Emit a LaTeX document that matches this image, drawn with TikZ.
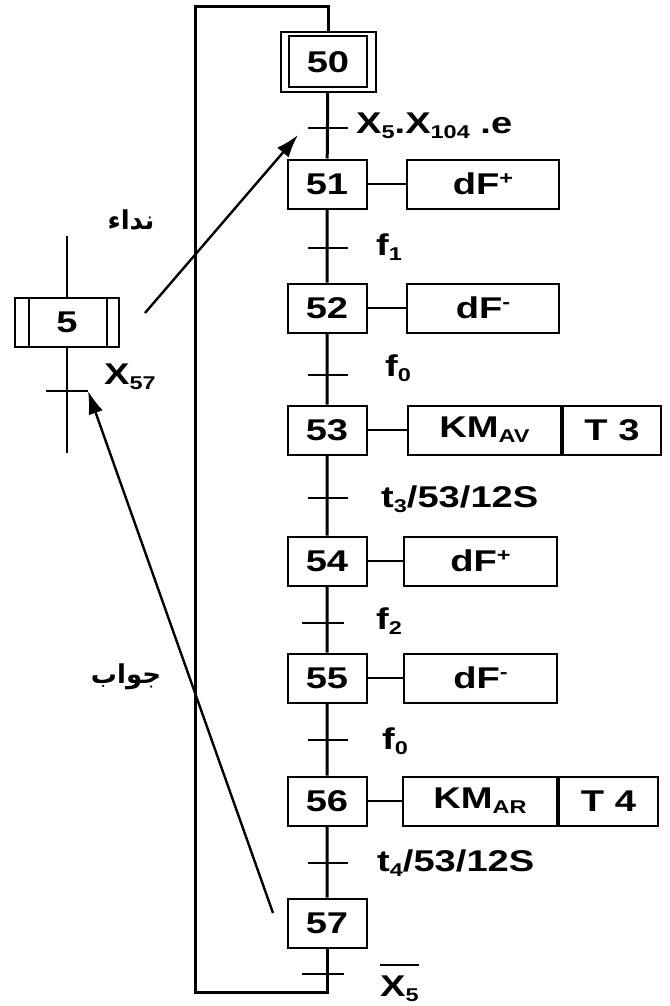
\documentclass[tikz,border=0pt]{standalone}
\usepackage{fontspec}
\setmainfont[FakeStretch=1.27]{Liberation Sans}
\newfontfamily\arabicfont[Script=Arabic]{DejaVu Sans}
\TeXXeTstate=1
\usepackage{tikz}
\usetikzlibrary{arrows.meta,positioning}

\newcommand{\lo}[1]{\raisebox{-5pt}{\fontsize{18.5}{18}\selectfont #1}}
\newcommand{\hi}[1]{\raisebox{10pt}{\fontsize{18.5}{18}\selectfont #1}}

\begin{document}
\begin{tikzpicture}[x=1pt, y=-1pt,
    every node/.style={font=\fontsize{30}{33}\selectfont\bfseries},
    stepbox/.style={draw, line width=2pt, minimum width=79pt, minimum height=49pt, inner sep=0pt},
    actbox/.style={draw, line width=2pt, minimum height=49pt, inner sep=0pt, anchor=west},
    flow/.style={line width=3pt},
    tick/.style={line width=2pt},
    lbl/.style={inner sep=0pt, anchor=base west},
    arab/.style={inner sep=0pt, font=\arabicfont\fontsize{26}{30}\selectfont\bfseries},
    link/.style={line width=2.4pt, -{Latex[length=23pt, width=15pt]}}]
    \useasboundingbox (0,0) rectangle (669,1006);

    % Initial step with double frame
    \node[stepbox, minimum width=78pt, minimum height=51pt] (s50) at (328,62) {50};
    \node[stepbox, minimum width=95pt, minimum height=60pt] (s50o) at (328,62) {};

    % Steps of the sequence
    \node[stepbox] (s51) at (327,184) {51};
    \node[stepbox] (s52) at (327,308) {52};
    \node[stepbox] (s53) at (327,430) {53};
    \node[stepbox] (s54) at (327,561) {54};
    \node[stepbox] (s55) at (327,678) {55};
    \node[stepbox] (s56) at (327,801) {56};
    \node[stepbox] (s57) at (327,923) {57};

    % Actions
    \node[actbox, minimum width=152pt] (a51) at (406,184) {dF\hi{+}};
    \node[actbox, minimum width=152pt] (a52) at (406,308) {dF\hi{-}};
    \node[actbox, minimum width=153pt] (a53) at (407,430) {KM\lo{AV}};
    \node[actbox, minimum width=98pt] (b53) at (a53.east) {T 3};
    \node[actbox, minimum width=153pt] (a54) at (403,561) {dF\hi{+}};
    \node[actbox, minimum width=153pt] (a55) at (403,678) {dF\hi{-}};
    \node[actbox, minimum width=154pt] (a56) at (402,801) {KM\lo{AR}};
    \node[actbox, minimum width=99pt] (b56) at (a56.east) {T 4};

    \draw[tick] (s51) -- (a51);
    \draw[tick] (s52) -- (a52);
    \draw[tick] (s53) -- (a53);
    \draw[tick] (s54) -- (a54);
    \draw[tick] (s55) -- (a55);
    \draw[tick] (s56) -- (a56);

    % Links and loop back to the initial step
    \coordinate (bot) at (327,992);
    \coordinate (botl) at (195,992);
    \coordinate (topl) at (195,7);
    \draw[flow] (s50o) -- (s51) -- (s52) -- (s53) -- (s54) -- (s55) -- (s56) -- (s57);
    \draw[flow] (s57) -- (bot) -- (botl) -- (topl) -| (s50o);

    % Transitions
    \coordinate (t50) at (327,128);
    \coordinate (t51) at (327,248);
    \coordinate (t52) at (327,375);
    \coordinate (t53) at (327,498);
    \coordinate (t54) at (327,623);
    \coordinate (t55) at (327,740);
    \coordinate (t56) at (327,863);
    \coordinate (t57) at (327,974);
    \foreach \t in {t50,t51,t52,t53,t55,t56}
        \draw[tick] (\t) ++(-19,0) -- ++(40,0);
    \draw[tick] (t54) ++(-25,0) -- ++(42,0);
    \draw[tick] (t57) ++(-25,0) -- ++(42,0);

    \node[lbl] (c50) at (356,134) {X\lo{5}.X\lo{104} .e};
    \node[lbl] (c51) at (376,255) {f\lo{1}};
    \node[lbl] (c52) at (385,376) {f\lo{0}};
    \node[lbl] (c53) at (381,507) {t\lo{3}/53/12S};
    \node[lbl] (c54) at (376,629) {f\lo{2}};
    \node[lbl] (c55) at (382,749) {f\lo{0}};
    \node[lbl] (c56) at (377,871) {t\lo{4}/53/12S};
    \node[lbl] (c57) at (380,996) {X\lo{5}};
    \draw[tick] ([yshift=10pt]c57.north west) -- ([yshift=10pt]c57.north east);

    % Macro step 5
    \node[stepbox, minimum width=104pt] (m5) at (67,322) {5};
    \draw[tick] ([xshift=15pt]m5.north west) -- ([xshift=15pt]m5.south west);
    \draw[tick] ([xshift=-13pt]m5.north east) -- ([xshift=-13pt]m5.south east);
    \coordinate (min) at (67,236);
    \coordinate (mout) at (67,453);
    \coordinate (mt) at (67,391);
    \draw[tick] (min) -- (m5) -- (mout);
    \draw[tick] (mt) ++(-21,0) coordinate (mtl) -- ++(42,0) coordinate (mtr);
    \node[lbl] (x57) at (104,384) {X\lo{57}};

    % Call and answer
    \node[arab] (call) at (131,220) {\beginR نداء\endR};
    \node[arab] (answer) at (126,677) {\beginR جواب\endR};
    \coordinate (callfrom) at (145,313);
    \coordinate (callto) at (298,135);
    \coordinate (ansfrom) at (273,913);
    \draw[link] (callfrom) -- (callto);
    \draw[link] (ansfrom) -- (mtr);
\end{tikzpicture}
\end{document}
